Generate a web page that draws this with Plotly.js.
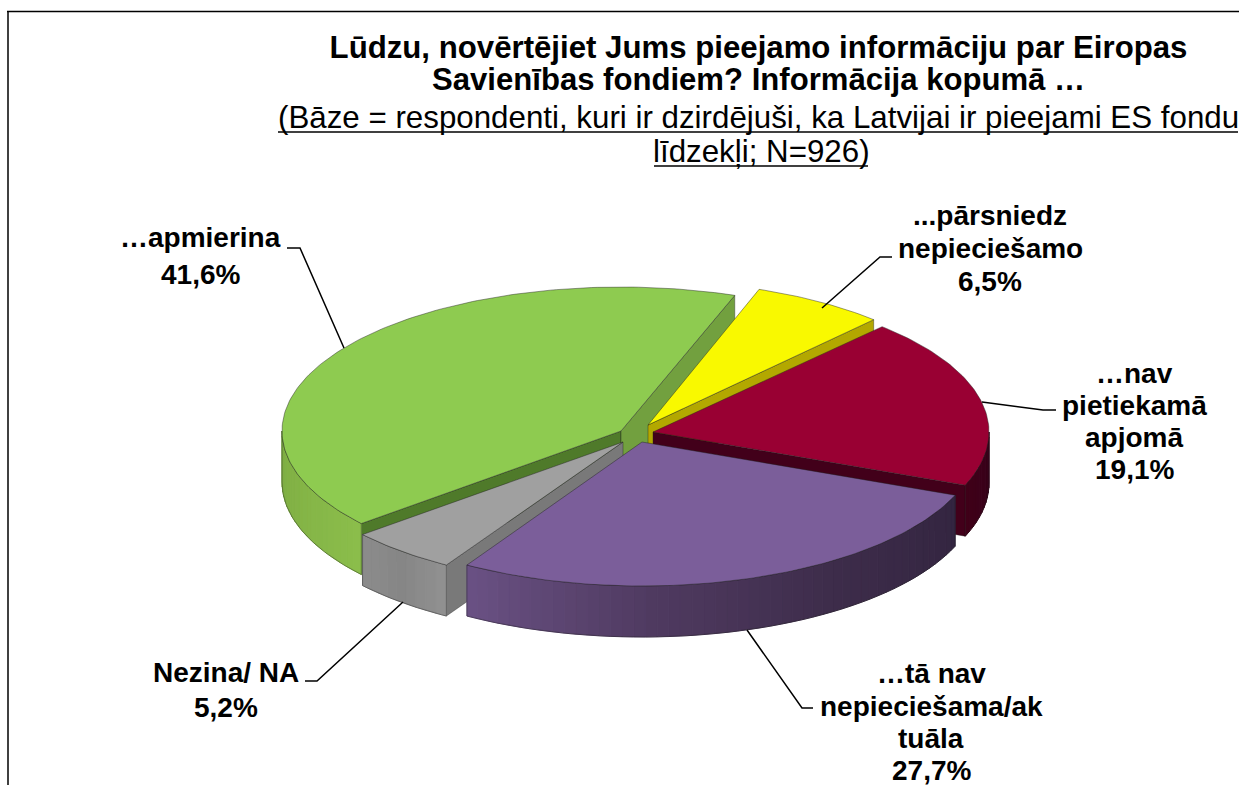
<!DOCTYPE html>
<html>
<head>
<meta charset="utf-8">
<script src="https://cdn.plot.ly/plotly-3.0.1.min.js"></script>
<style>html,body{margin:0;padding:0;background:#fff}#chart{width:1239px;height:785px}</style>
</head>
<body>
<div id="chart"></div>
<script>
// ---- data ----
const categories = ['…apmierina', '...pārsniedz\nnepiecie\u0161amo', '…nav\npietiekamā\napjomā', '…tā nav\nnepiecie\u0161ama/ak\ntuāla', 'Nezina/ NA'];
const shares = [41.6, 6.5, 19.1, 27.7, 5.2];
const titleLines = ['Lūdzu, novērtējiet Jums pieejamo informāciju par Eiropas', 'Savienības fondiem? Informācija kopumā …'];
const baseLines = ['(Bāze = respondenti, kuri ir dzirdējuši, ka Latvijai ir pieejami ES fondu', 'līdzekļi; N=926)'];

// ---- styles ----
const topColors = ['#8ecb50', '#f9f900', '#990033', '#7b5e9a', '#a0a0a0'];
const wallColors = [['#8bbd4b', '#7dac42'], ['#b3a800', '#b3a800'], ['#33001a', '#400018'], ['#332540', '#3d2c4a', '#4f3a60', '#6a5184'], ['#919191', '#868686', '#8c8c8c']];
const cutColors = [['#4f7a2a', '#72a03f'], [null, '#b3a800'], [null, '#42001a'], [null, null], ['#797979', null]];

// ---- geometry of the drawing, in page pixels on the invisible axes ----
const RY = 144, DEPTH = 51, START = 230;
const radiiX = [339, 331, 336, 337, 340];
const centres = [[621, 431], [648, 425], [653, 432], [642, 442], [623, 442]];
const paintOrder = [0, 1, 2, 4, 3];
const labelAnchors = [[200, [237, 274]], [990, [215, 248, 281]], [1134, [373, 405, 437, 469]], [931, [673, 706, 738, 770]], [226, [672, 707]]];
const leaders = [
  [[344, 300, 287], [348, 248, 248]],
  [[822, 880, 892], [308, 257, 257]],
  [[982, 1043, 1056], [402, 410, 410]],
  [[747, 802, 813], [630, 708, 708]],
  [[403, 317, 305], [602, 681, 681]]
];

const total = shares.reduce((a, b) => a + b, 0);
const rad = d => d * Math.PI / 180;
function rim(c, rx, deg, drop) {
  return [c[0] + rx * Math.sin(rad(deg)), c[1] - RY * Math.cos(rad(deg)) + (drop || 0)];
}
function hex(c) { return [1, 3, 5].map(i => parseInt(c.slice(i, i + 2), 16)); }
function mix(stops, t) {
  if (stops.length === 1) return stops[0];
  const p = Math.min(t, 0.9999) * (stops.length - 1), i = Math.floor(p), f = p - i;
  const a = hex(stops[i]), b = hex(stops[i + 1]);
  return 'rgb(' + a.map((v, k) => Math.round(v + (b[k] - v) * f)).join(',') + ')';
}
const traces = [];
function poly(pts, fill, line, width, name) {
  traces.push({
    type: 'scatter', mode: 'lines', x: pts.map(p => p[0]).concat(pts[0][0]), y: pts.map(p => p[1]).concat(pts[0][1]),
    fill: 'toself', fillcolor: fill || 'rgba(0,0,0,0)', line: { color: line, width: width },
    hoverinfo: name ? 'text' : 'skip', text: name || '', showlegend: false
  });
}
const EDGE = 'rgba(30,30,30,0.55)';
let angle = START;
const spans = shares.map(v => { const s = [angle, angle + 360 * v / total]; angle = s[1]; return s; });
paintOrder.forEach(i => {
  const v = shares[i], a0 = spans[i][0], a1 = spans[i][1];
  const c = centres[i], rx = radiiX[i];
  const arc = [];
  for (let d = a0; d < a1; d += 1) arc.push(rim(c, rx, d));
  arc.push(rim(c, rx, a1));
  const apex = c, pa = rim(c, rx, a0), pb = rim(c, rx, a1);
  // cut faces
  if (cutColors[i][0]) poly([apex, pa, [pa[0], pa[1] + DEPTH], [apex[0], apex[1] + DEPTH]], cutColors[i][0], EDGE, 0.7);
  if (cutColors[i][1]) poly([apex, pb, [pb[0], pb[1] + DEPTH], [apex[0], apex[1] + DEPTH]], cutColors[i][1], EDGE, 0.7);
  // outer wall (only the part that faces the viewer)
  const vis = [];
  for (const base of [-360, 0, 360]) {
    const lo = Math.max(a0, 90 + base), hi = Math.min(a1, 270 + base);
    if (lo < hi) vis.push([lo, hi]);
  }
  vis.forEach(([lo, hi]) => {
    const strips = Math.max(4, Math.round((hi - lo) / 2));
    for (let s = 0; s < strips; s++) {
      const d0 = lo + (hi - lo) * s / strips, d1 = lo + (hi - lo) * (s + 1) / strips;
      const col = mix(wallColors[i], (s + 0.5) / strips);
      const ps = [rim(c, rx, d0), rim(c, rx, (d0 + d1) / 2), rim(c, rx, d1), rim(c, rx, d1, DEPTH), rim(c, rx, (d0 + d1) / 2, DEPTH), rim(c, rx, d0, DEPTH)];
      poly(ps, col, col, 1);
    }
    const out = [];
    const n = Math.ceil(hi - lo);
    for (let k = 0; k <= n; k++) out.push(rim(c, rx, lo + (hi - lo) * k / n));
    for (let k = n; k >= 0; k--) out.push(rim(c, rx, lo + (hi - lo) * k / n, DEPTH));
    poly(out, null, EDGE, 0.7);
  });
  // top face
  poly([apex].concat(arc), topColors[i], EDGE, 0.8, categories[i].replace(/\n/g, ' ') + ': ' + String(v).replace('.', ',') + '%');
});
leaders.forEach(l => traces.push({
  type: 'scatter', mode: 'lines', x: l[0], y: l[1], line: { color: '#000', width: 1.5 }, hoverinfo: 'skip', showlegend: false
}));

// ---- text ----
const FONT = 'Liberation Sans, Arial, sans-serif';
const annotations = [];
categories.forEach((cat, i) => {
  const lines = cat.split('\n').concat(String(shares[i]).replace('.', ',') + '%');
  lines.forEach((t, k) => annotations.push({
    xref: 'x', yref: 'y', x: labelAnchors[i][0], y: labelAnchors[i][1][k], text: '<b>' + t + '</b>',
    showarrow: false, xanchor: 'center', yanchor: 'middle', font: { family: FONT, size: 28, color: '#000' }
  }));
});
annotations.push({
  xref: 'x', yref: 'y', x: 758, y: 79, text: '<b>' + titleLines[1] + '</b>', showarrow: false,
  xanchor: 'center', yanchor: 'middle', font: { family: FONT, size: 31.1, color: '#000' }
});
baseLines.forEach((t, k) => annotations.push({
  xref: 'x', yref: 'y', x: [758, 761][k], y: [117, 151][k], text: t, showarrow: false,
  xanchor: 'center', yanchor: 'middle', font: { family: FONT, size: 31.3, color: '#000' }
}));

const layout = {
  width: 1239, height: 785, margin: { l: 0, r: 0, t: 0, b: 0 }, paper_bgcolor: '#fff', plot_bgcolor: '#fff',
  title: { text: '<b>' + titleLines[0] + '</b>', x: 0.6122, xanchor: 'center', y: 0.94, yanchor: 'middle', font: { family: FONT, size: 31.2, color: '#000' } },
  xaxis: { range: [0, 1239], visible: false, fixedrange: true },
  yaxis: { range: [785, 0], visible: false, fixedrange: true },
  showlegend: false, annotations: annotations,
  shapes: [
    { type: 'line', xref: 'x', yref: 'y', x0: 8, x1: 8, y0: 11.5, y1: 785, line: { color: '#000', width: 1.5 } },
    { type: 'line', xref: 'x', yref: 'y', x0: 7, x1: 1239, y0: 11.5, y1: 11.5, line: { color: '#000', width: 1.5 } },
    { type: 'line', xref: 'x', yref: 'y', x0: 278, x1: 1238, y0: 132, y1: 132, line: { color: '#000', width: 1.5 } },
    { type: 'line', xref: 'x', yref: 'y', x0: 654, x1: 868, y0: 166, y1: 166, line: { color: '#000', width: 1.5 } }
  ]
};
Plotly.newPlot('chart', traces, layout, { displayModeBar: false });
</script>
</body>
</html>
